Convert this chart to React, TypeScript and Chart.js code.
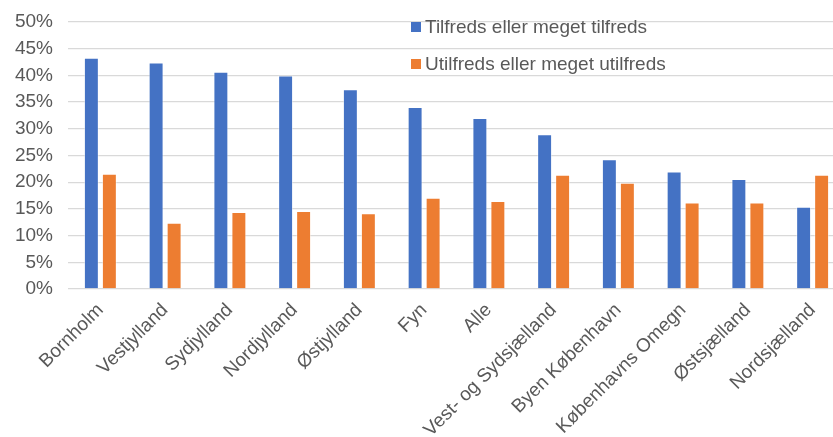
import React, { useEffect, useRef } from "react";
import { Chart, registerables } from "chart.js";

Chart.register(...registerables);

const categories = [
  "Bornholm",
  "Vestjylland",
  "Sydjylland",
  "Nordjylland",
  "Østjylland",
  "Fyn",
  "Alle",
  "Vest- og Sydsjælland",
  "Byen København",
  "Københavns Omegn",
  "Østsjælland",
  "Nordsjælland",
];
const satisfied = [43.3, 42.4, 40.7, 40.0, 37.4, 34.1, 32.0, 29.0, 24.3, 22.0, 20.6, 15.4];
const dissatisfied = [21.6, 12.4, 14.4, 14.6, 14.2, 17.1, 16.5, 21.4, 19.9, 16.2, 16.2, 21.4];
const seriesLabels = ["Tilfreds eller meget tilfreds", "Utilfreds eller meget utilfreds"];
const seriesColors = ["#4472C4", "#ED7D31"];
const yTicks = [0, 5, 10, 15, 20, 25, 30, 35, 40, 45, 50];

const FONT = '"Liberation Sans", Arial, sans-serif';
const TEXT = "#595959";

const legendPlugin = {
  id: "innerLegend",
  afterDraw(chart: any) {
    const ctx = chart.ctx;
    ctx.save();
    ctx.font = `19px ${FONT}`;
    ctx.textBaseline = "middle";
    ctx.textAlign = "left";
    chart.data.datasets.forEach((ds: any, i: number) => {
      const cy = 27 + i * 37;
      ctx.fillStyle = ds.backgroundColor;
      ctx.fillRect(411, cy - 5, 10, 10);
      ctx.fillStyle = TEXT;
      ctx.fillText(ds.label, 425, cy + 1);
    });
    ctx.restore();
  },
};

export default function App() {
  const ref = useRef<HTMLCanvasElement>(null);
  useEffect(() => {
    document.body.style.margin = "0";
    const chart = new Chart(ref.current!, {
      type: "bar",
      data: {
        labels: categories,
        datasets: [
          {
            label: seriesLabels[0],
            data: satisfied,
            backgroundColor: seriesColors[0],
            borderColor: "rgba(255,255,255,0.45)",
            borderWidth: 1,
            categoryPercentage: 0.556,
            barPercentage: 0.83,
          },
          {
            label: seriesLabels[1],
            data: dissatisfied,
            backgroundColor: seriesColors[1],
            borderColor: "rgba(255,255,255,0.45)",
            borderWidth: 1,
            categoryPercentage: 0.556,
            barPercentage: 0.83,
          },
        ],
      },
      options: {
        animation: false,
        responsive: false,
        layout: { padding: { top: 22, left: 0, right: 5, bottom: 0 } },
        plugins: { legend: { display: false }, tooltip: { enabled: false } },
        scales: {
          x: {
            grid: { display: false },
            border: { display: false },
            ticks: {
              autoSkip: false,
              maxRotation: 45,
              minRotation: 45,
              color: TEXT,
              font: { family: FONT, size: 19 },
              padding: 2,
            },
            afterFit: (s: any) => {
              s.height = 148;
              s.paddingTop = 0;
              s.paddingBottom = 0;
            },
          },
          y: {
            min: 0,
            max: 50,
            afterBuildTicks: (s: any) => {
              s.ticks = yTicks.map((v) => ({ value: v }));
            },
            grid: { color: "#D9D9D9", lineWidth: 1.3, drawTicks: false },
            border: { display: false },
            ticks: {
              color: TEXT,
              font: { family: FONT, size: 19 },
              padding: 15,
              callback: (v: any) => `${v}%`,
            },
            afterFit: (s: any) => {
              s.width = 68;
              s.paddingTop = 0;
              s.paddingBottom = 0;
            },
          },
        },
      },
      plugins: [legendPlugin],
    });
    return () => chart.destroy();
  }, []);
  return (
    <div style={{ width: 833, height: 437, overflow: "hidden", background: "#fff" }}>
      <canvas ref={ref} width={850} height={437} style={{ display: "block" }} />
    </div>
  );
}
